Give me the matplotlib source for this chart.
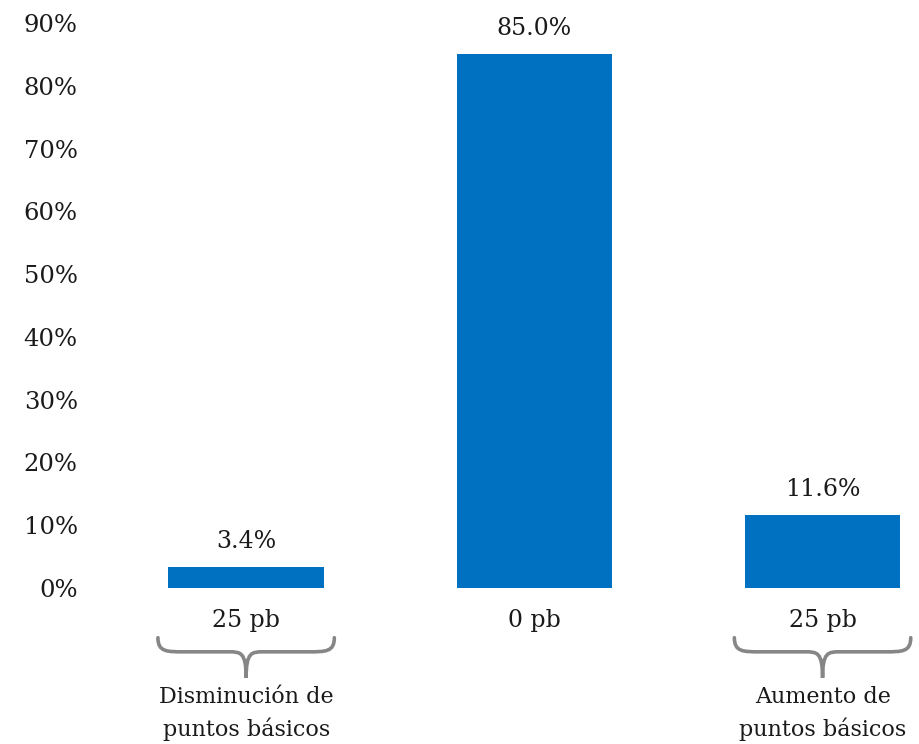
import matplotlib.pyplot as plt
import numpy as np
from matplotlib.path import Path
from matplotlib.patches import PathPatch
from matplotlib.transforms import blended_transform_factory

# Data
categories = ['25 pb', '0 pb', '25 pb']
values = [3.4, 85.0, 11.6]
group_labels = ['Disminución de\npuntos básicos', 'Aumento de\npuntos básicos']
group_positions = [0, 2]
yticks = np.arange(0, 100, 10)

plt.rcParams['font.family'] = ['DejaVu Serif']

fig = plt.figure(figsize=(9.2, 7.44), dpi=100)
ax = fig.add_axes([0.1087, 0.2097, 0.88, 0.7594])

x = np.arange(len(categories))
bars = ax.bar(x, values, width=0.54, color='#0070C0')

for xi, v in zip(x, values):
    ax.annotate(f'{v:.1f}%', xy=(xi, v), xytext=(0, 10), textcoords='offset points',
                ha='center', va='bottom', fontsize=17, color='#1a1a1a')

ax.set_xlim(-0.507, 2.302)
ax.set_ylim(0, 90)
ax.set_yticks(yticks)
ax.set_yticklabels([f'{t}%' for t in yticks], fontsize=17.5, color='#1a1a1a')
ax.set_xticks(x)
ax.set_xticklabels(categories, fontsize=17, color='#1a1a1a')
ax.tick_params(axis='y', length=0, pad=16)
ax.tick_params(axis='x', length=0, pad=15)
for s in ax.spines.values():
    s.set_visible(False)

# curly braces under the outer bars
trans = blended_transform_factory(ax.transData, ax.transAxes)
w = 0.306
y0, y1, y2 = -0.088, -0.113, -0.159
for cx, label in zip(group_positions, group_labels):
    verts = [
        (cx - w, y0), (cx - w, y1), (cx - w + 0.03, y1), (cx - w + 0.09, y1),
        (cx - 0.06, y1),
        (cx - 0.02, y1), (cx, y1), (cx, y2),
        (cx, y1), (cx + 0.02, y1), (cx + 0.06, y1),
        (cx + w - 0.09, y1),
        (cx + w - 0.03, y1), (cx + w, y1), (cx + w, y0),
    ]
    codes = [Path.MOVETO, Path.CURVE4, Path.CURVE4, Path.CURVE4,
             Path.LINETO,
             Path.CURVE4, Path.CURVE4, Path.CURVE4,
             Path.CURVE4, Path.CURVE4, Path.CURVE4,
             Path.LINETO,
             Path.CURVE4, Path.CURVE4, Path.CURVE4]
    patch = PathPatch(Path(verts, codes), transform=trans, facecolor='none',
                      edgecolor='#868686', lw=2.6, clip_on=False, capstyle='round')
    ax.add_patch(patch)
    ax.text(cx, -0.222, label, transform=trans, ha='center', va='center',
            fontsize=16, linespacing=1.5, color='#1a1a1a')

plt.savefig('out.png', dpi=100)
